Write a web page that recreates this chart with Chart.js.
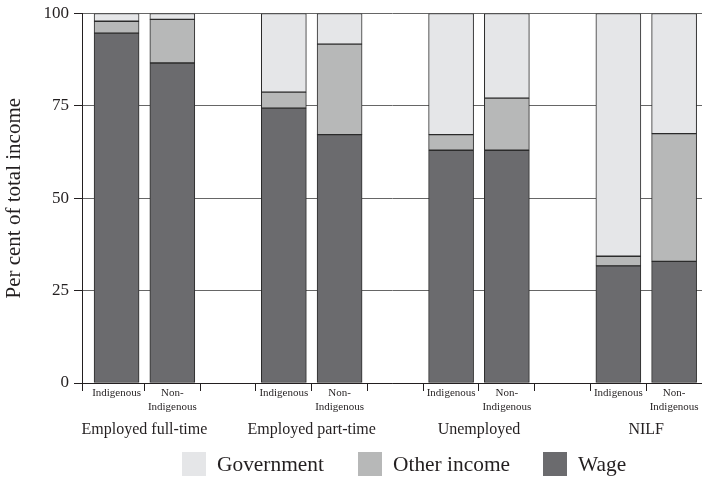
<!DOCTYPE html>
<html>
<head>
<meta charset="utf-8">
<script src="https://cdn.jsdelivr.net/npm/chart.js@4"></script>
<style>
  body { margin: 0; background: #fff; }
  #wrap { position: relative; width: 702px; height: 479px; }
  .leg { position: absolute; top: 452px; display: flex; align-items: center; white-space: nowrap;
         font: 21.4px "Liberation Serif", serif; color: #231f20; line-height: 24px; }
  .leg span.box { width: 24px; height: 24px; margin-right: 11px; display: inline-block; }
</style>
</head>
<body>
<div id="wrap">
  <canvas id="grafico" width="702" height="479"></canvas>
  <div class="leg" style="left:182px"><span class="box" style="background:#e5e6e8"></span>Government</div>
  <div class="leg" style="left:358px"><span class="box" style="background:#b7b8b8"></span>Other income</div>
  <div class="leg" style="left:543px"><span class="box" style="background:#6b6b6e"></span>Wage</div>
</div>
<script>
// Grupos e categorias
const categories = ["Employed full-time", "Employed part-time", "Unemployed", "NILF"];
const groups = ["Indigenous", ["Non-", "Indigenous"]];

// Posicao de cada barra (slot), com um espaco entre os grupos
const barSlots = [0, 1, 3, 4, 6, 7, 9, 10];
const groupSlots = [0.5, 3.5, 6.5, 9.5];
const boundarySlots = [-0.62, 0.5, 1.5, 2.5, 3.5, 4.5, 5.5, 6.5, 7.5, 8.5, 9.5, 10.5];
const xMin = boundarySlots[0];
const xMax = boundarySlots[boundarySlots.length - 1];

// Valores (% da renda total), ordem: Ind/Non-Ind para cada categoria
const wage =        [94.7, 86.6, 74.4, 67.2, 63.0, 63.0, 31.7, 32.9];
const otherIncome = [3.2, 11.8, 4.3, 24.5, 4.2, 14.1, 2.6, 34.6];
const government =  [2.1, 1.6, 21.3, 8.3, 32.8, 22.9, 65.7, 32.5];

const yTicks = [0, 25, 50, 75, 100];

const ink = "#231f20";
const serif = "'Liberation Serif', 'Times New Roman', serif";

const toPoints = arr => arr.map((v, i) => ({ x: barSlots[i], y: v }));

// fixa os limites do eixo x e os ticks escolhidos
const fixTicks = values => s => {
  s.ticks = values.map(v => ({ value: v }));
  s.min = xMin;
  s.max = xMax;
};

const barStyle = {
  borderColor: "#2b2b2b",
  borderWidth: 1,
  borderSkipped: false,
  barThickness: 45
};

const ctx = document.getElementById("grafico").getContext("2d");

new Chart(ctx, {
  type: "bar",
  data: {
    datasets: [
      { label: "Wage", data: toPoints(wage), backgroundColor: "#6b6b6e", ...barStyle },
      { label: "Other income", data: toPoints(otherIncome), backgroundColor: "#b7b8b8", ...barStyle },
      { label: "Government", data: toPoints(government), backgroundColor: "#e5e6e8", ...barStyle }
    ]
  },
  options: {
    responsive: false,
    animation: false,
    layout: { padding: { top: 13, bottom: 31, left: 0, right: 0 } },
    plugins: {
      legend: { display: false },
      tooltip: { enabled: false }
    },
    scales: {
      y: {
        stacked: true,
        min: 0,
        max: 100,
        afterBuildTicks: s => { s.ticks = yTicks.map(v => ({ value: v })); },
        afterFit: s => { s.width = 82; },
        ticks: { color: ink, font: { family: serif, size: 17, lineHeight: 1 }, padding: 5 },
        grid: { color: "#666", tickColor: ink, tickLength: 8 },
        border: { color: ink, width: 1 },
        title: {
          display: true,
          text: "Per cent of total income",
          color: ink,
          font: { family: serif, size: 21 },
          padding: { top: 2, bottom: 4 }
        }
      },
      x: {
        type: "linear",
        position: "bottom",
        bounds: "data",
        offset: false,
        stacked: true,
        weight: 0,
        min: xMin,
        max: xMax,
        afterBuildTicks: fixTicks(boundarySlots),
        afterFit: s => { s.height = 0; },
        ticks: { display: false },
        grid: { offset: false, drawOnChartArea: false, drawTicks: true, tickLength: 8, color: ink },
        border: { color: ink, width: 1 }
      },
      x2: {
        type: "linear",
        position: "bottom",
        bounds: "data",
        offset: false,
        weight: 1,
        min: xMin,
        max: xMax,
        afterBuildTicks: fixTicks(barSlots),
        afterFit: s => { s.height = 31; },
        ticks: {
          autoSkip: false,
          maxRotation: 0,
          minRotation: 0,
          padding: 3,
          color: ink,
          font: { family: serif, size: 11, lineHeight: 1.3 },
          callback: (v, i) => groups[i % 2]
        },
        grid: { display: false, drawTicks: false, offset: false },
        border: { display: false }
      },
      x3: {
        type: "linear",
        position: "bottom",
        bounds: "data",
        offset: false,
        weight: 2,
        min: xMin,
        max: xMax,
        afterBuildTicks: fixTicks(groupSlots),
        afterFit: s => { s.height = 34; },
        ticks: {
          autoSkip: false,
          maxRotation: 0,
          minRotation: 0,
          padding: 6,
          color: ink,
          font: { family: serif, size: 16 },
          callback: (v, i) => categories[i]
        },
        grid: { display: false, drawTicks: false, offset: false },
        border: { display: false }
      }
    }
  }
});
</script>
</body>
</html>
